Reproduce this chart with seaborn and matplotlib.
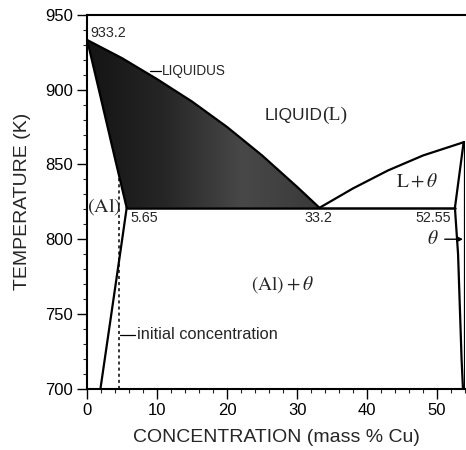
import numpy as np
import pandas as pd
import matplotlib
matplotlib.use("Agg")
import matplotlib.pyplot as plt
from matplotlib.patches import Polygon
from matplotlib.colors import LinearSegmentedColormap
from matplotlib.ticker import MultipleLocator
import seaborn as sns

sns.set_theme(style="ticks")
plt.rcParams["font.family"] = ["Liberation Sans", "DejaVu Sans"]
plt.rcParams["mathtext.fontset"] = "stix"

# --- phase boundaries (mass % Cu, K) ---
T_melt = 933.2
T_eut = 821.0
c_al_max = 5.65
c_eut = 33.2
c_theta = 52.55
c_init = 4.5

liquidus_c = [0, 5, 10, 15, 20, 25, 30, 33.2]
liquidus_T = [933.2, 921, 907, 892, 875, 856, 835, 821]

solidus_c = [0, 2, 4, 5.65]
solidus_T = [933.2, 893.5, 853.5, 821]

solvus_c = [5.65, 4.7, 1.9]
solvus_T = [821, 790, 700]

liq_theta_c = [33.2, 38, 43, 48, 53.9]
liq_theta_T = [821, 834, 846, 856, 865]

theta_left_c = [53.8, 52.55, 53.0, 53.5, 53.7]
theta_left_T = [865, 821, 790, 720, 700]

theta_right_c = [53.95, 53.95]
theta_right_T = [700, 865]

fig, ax = plt.subplots(figsize=(4.66, 4.5), dpi=100)
fig.subplots_adjust(left=0.187, right=0.998, bottom=0.136, top=0.967)

# shaded L + (Al) region
poly = list(zip(liquidus_c, liquidus_T)) + [(c_al_max, T_eut)] + list(zip(solidus_c[::-1], solidus_T[::-1]))
patch = Polygon(poly, closed=True, facecolor="none", edgecolor="none")
ax.add_patch(patch)
cmap = LinearSegmentedColormap.from_list("shade", ["#141414", "#262626", "#484848", "#3a3a3a"])
grad = np.linspace(0, 1, 256).reshape(1, -1)
im = ax.imshow(grad, extent=[0, c_eut, T_eut, T_melt], aspect="auto", cmap=cmap,
               origin="lower", zorder=1)
im.set_clip_path(patch)

lw = 1.6
for cs, ts in [(liquidus_c, liquidus_T), (solidus_c, solidus_T), (solvus_c, solvus_T),
               (liq_theta_c, liq_theta_T), (theta_left_c, theta_left_T),
               (theta_right_c, theta_right_T)]:
    df = pd.DataFrame({"c": cs, "T": ts})
    sns.lineplot(data=df, x="c", y="T", sort=False, estimator=None, color="black",
                 lw=lw, ax=ax, zorder=3)

# eutectic isotherm
ax.plot([c_al_max, c_theta], [T_eut, T_eut], color="black", lw=1.8, zorder=3)

# initial concentration
T_top_init = T_melt - (T_melt - T_eut) * c_init / c_al_max
ax.plot([c_init, c_init], [700, T_top_init], color="black", lw=1.1, ls=(0, (2, 2)), zorder=3)

# text labels
small = 10.3
serif = ["Liberation Serif", "DejaVu Serif"]
ax.text(0.5, 938, "933.2", fontsize=small, va="center", ha="left")
ax.plot([9.0, 10.6], [912.5, 912.5], color="black", lw=0.9)
ax.text(10.7, 912.5, "LIQUIDUS", fontsize=9.8, va="center", ha="left")
ax.text(33.6, 882.5, "LIQUID", fontsize=12.5, va="center", ha="right")
ax.text(33.6, 882.5, "(L)", fontsize=14, va="center", ha="left", family=serif)
ax.text(47.2, 838, r"$\mathrm{L}+\theta$", fontsize=14, va="center", ha="center")
ax.text(2.4, 822, r"$(\mathrm{Al})$", fontsize=14.5, va="center", ha="center")
ax.text(6.2, 814.5, "5.65", fontsize=small, va="center", ha="left")
ax.text(33.0, 814.5, "33.2", fontsize=small, va="center", ha="center")
ax.text(49.4, 814.5, "52.55", fontsize=small, va="center", ha="center")
ax.text(27.9, 770, r"$(\mathrm{Al})+\theta$", fontsize=14, va="center", ha="center")
ax.plot([4.7, 6.8], [736, 736], color="black", lw=0.9)
ax.text(7.1, 736, "initial concentration", fontsize=11.8, va="center", ha="left")
ax.annotate(r"$\theta$", xy=(53.7, 800), xytext=(49.4, 800), fontsize=14,
            va="center", ha="center",
            arrowprops=dict(arrowstyle="-|>", color="black", lw=1.0, shrinkA=2, shrinkB=0,
                            mutation_scale=8))

ax.set_xlim(0, 54)
ax.set_ylim(700, 950)
ax.xaxis.set_major_locator(MultipleLocator(10))
ax.xaxis.set_minor_locator(MultipleLocator(2))
ax.yaxis.set_major_locator(MultipleLocator(50))
ax.yaxis.set_minor_locator(MultipleLocator(10))
ax.tick_params(which="major", direction="out", length=7, width=1.0, labelsize=12, pad=3,
               colors="black")
ax.tick_params(which="minor", direction="out", length=3, width=0.8)
ax.spines["right"].set_visible(False)
for s in ["left", "bottom", "top"]:
    ax.spines[s].set_linewidth(1.5)
    ax.spines[s].set_color("black")
ax.set_xlabel("CONCENTRATION (mass % Cu)", fontsize=14, labelpad=8)
ax.set_ylabel("TEMPERATURE (K)", fontsize=14, labelpad=10)

fig.savefig("out.png", dpi=100)
